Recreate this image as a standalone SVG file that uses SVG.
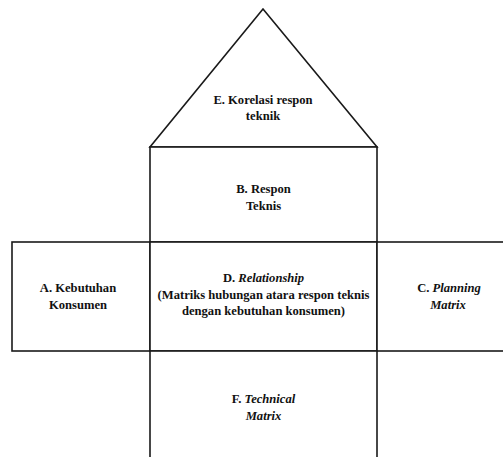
<svg xmlns="http://www.w3.org/2000/svg" width="503" height="457" viewBox="0 0 503 457">
<style>
.box{fill:#fff;stroke:#1a1a1a;stroke-width:1.6}
.t{font-family:'Liberation Serif','DejaVu Serif',serif;font-weight:700;font-size:12.6px;fill:#111;text-anchor:middle}
.i{font-style:italic}
</style>
<rect width="503" height="457" fill="#fff"/>
<g id="nodeE">
<polygon class="box" points="263,9 150,147 377,147"/>
<text class="t" x="263" y="104">E. Korelasi respon</text>
<text class="t" x="263" y="120">teknik</text>
</g>
<g id="nodeB">
<rect class="box" x="150" y="147" width="227" height="95"/>
<text class="t" x="263.5" y="192.5">B. Respon</text>
<text class="t" x="263.5" y="209.5">Teknis</text>
</g>
<g id="nodeA">
<rect class="box" x="12" y="242" width="138" height="109"/>
<text class="t" x="78" y="292">A. Kebutuhan</text>
<text class="t" x="78" y="309">Konsumen</text>
</g>
<g id="nodeD">
<rect class="box" x="150" y="242" width="227" height="109"/>
<text class="t" x="263.5" y="282">D. <tspan class="i">Relationship</tspan></text>
<text class="t" x="263.5" y="298.5">(Matriks hubungan atara respon teknis</text>
<text class="t" x="263.5" y="315">dengan kebutuhan konsumen)</text>
</g>
<g id="nodeC">
<rect class="box" x="377" y="242" width="150" height="109"/>
<text class="t" x="449" y="292">C. <tspan class="i">Planning</tspan></text>
<text class="t" x="448" y="309"><tspan class="i">Matrix</tspan></text>
</g>
<g id="nodeF">
<rect class="box" x="150" y="351" width="227" height="130"/>
<text class="t" x="263.5" y="402.5">F. <tspan class="i">Technical</tspan></text>
<text class="t" x="263.5" y="420"><tspan class="i">Matrix</tspan></text>
</g>
<g id="connectors"></g>
</svg>
